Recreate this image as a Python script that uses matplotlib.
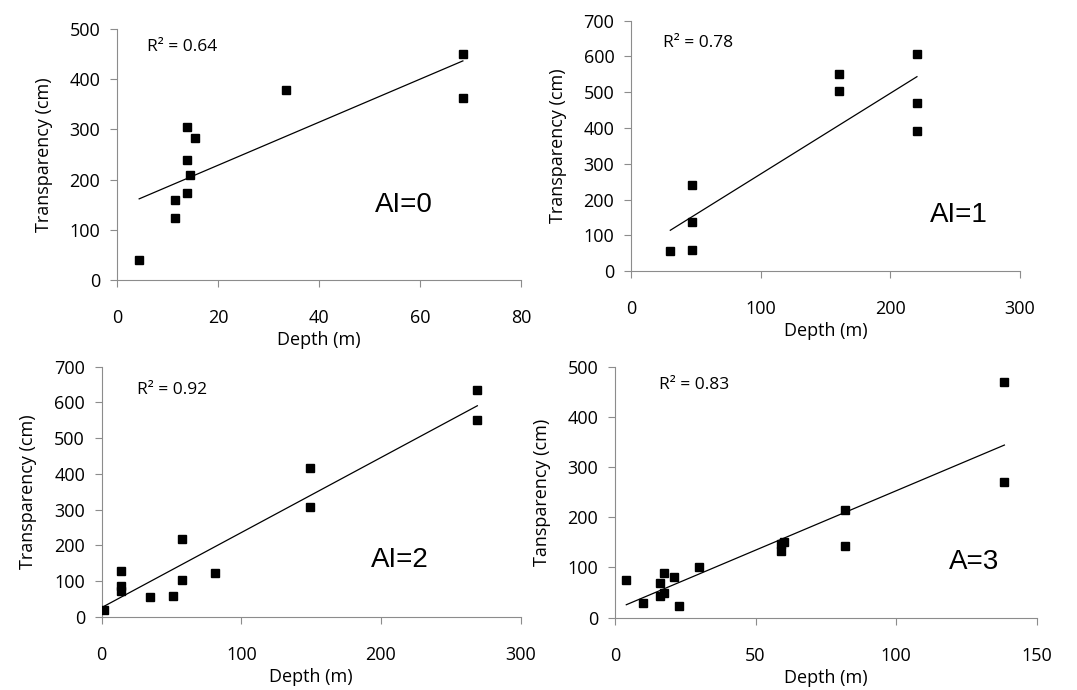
import numpy as np
import matplotlib.pyplot as plt

plt.rcParams['font.family'] = ['Open Sans', 'DejaVu Sans']

# AI=0
depth0 = [4.4, 11.5, 11.5, 13.8, 13.8, 13.8, 14.5, 15.5, 33.5, 68.5, 68.5]
transp0 = [40, 160, 123, 305, 240, 174, 209, 283, 379, 450, 362]
# AI=1
depth1 = [30.3, 47.3, 47.3, 47.3, 160.4, 160.4, 220.5, 220.5, 220.5]
transp1 = [57, 240, 137, 60, 551, 503, 607, 471, 391]
# AI=2
depth2 = [1.9, 13.6, 13.6, 13.6, 34.6, 50.8, 57.3, 57.3, 81.4, 149.2, 149.2, 269, 269]
transp2 = [18, 128, 85, 72, 56, 58, 218, 104, 122, 417, 308, 635, 550]
# A=3
depth3 = [4.1, 10.1, 16.2, 16.2, 17.5, 17.5, 21.2, 22.8, 30, 59.2, 59.2, 60.1, 81.7, 81.7, 138.4, 138.4]
transp3 = [75, 30, 70, 44, 90, 49, 82, 24, 100, 133, 147, 150, 214, 143, 470, 270]

r2_labels = ['R² = 0.64', 'R² = 0.78', 'R² = 0.92', 'R² = 0.83']
ai_labels = ['AI=0', 'AI=1', 'AI=2', 'A=3']
ylabels = ['Transparency (cm)', 'Transparency (cm)', 'Transparency (cm)', 'Tansparency (cm)']
xmax = [80, 300, 300, 150]
xstep = [20, 100, 100, 50]
ymax = [500, 700, 700, 500]

positions = [
    [0.1086, 0.5942, 0.3751, 0.3638],
    [0.5859, 0.6072, 0.3612, 0.3628],
    [0.0944, 0.1062, 0.3890, 0.3623],
    [0.5708, 0.1048, 0.3921, 0.3638],
]
r2_pos = [(0.074, 0.928), (0.082, 0.91), (0.0835, 0.907), (0.104, 0.927)]
ai_pos = [(0.71, 0.30), (0.843, 0.224), (0.712, 0.227), (0.851, 0.223)]

data = [(depth0, transp0), (depth1, transp1), (depth2, transp2), (depth3, transp3)]

fig = plt.figure(figsize=(10.77, 6.9), dpi=100)
for i, (x, y) in enumerate(data):
    ax = fig.add_axes(positions[i])
    x = np.array(x)
    y = np.array(y)
    ax.plot(x, y, 's', color='black', markersize=5.5, zorder=3)
    # linear trendline like excel
    k, b = np.polyfit(x, y, 1)
    xl = np.array([x.min(), x.max()])
    ax.plot(xl, k * xl + b, color='black', linewidth=0.9)

    ax.set_xlim(0, xmax[i])
    ax.set_ylim(0, ymax[i])
    ax.set_xticks(np.arange(0, xmax[i] + 1, xstep[i]))
    ax.set_yticks(np.arange(0, ymax[i] + 1, 100))
    for s in ['top', 'right']:
        ax.spines[s].set_visible(False)
    for s in ['left', 'bottom']:
        ax.spines[s].set_color('#8c8c8c')
    ax.tick_params(axis='x', colors='#8c8c8c', labelcolor='black', length=5,
                   labelsize=13, pad=16)
    ax.tick_params(axis='y', colors='#8c8c8c', labelcolor='black', length=5,
                   labelsize=13, pad=7)
    ax.set_xlabel('Depth (m)', fontsize=13, labelpad=3)
    ax.set_ylabel(ylabels[i], fontsize=13, labelpad=12)
    ax.text(r2_pos[i][0], r2_pos[i][1], r2_labels[i], transform=ax.transAxes,
            fontsize=12.5, va='center', ha='left')
    ax.text(ai_pos[i][0], ai_pos[i][1], ai_labels[i], transform=ax.transAxes,
            fontsize=20, va='center', ha='center', family='Liberation Sans')

plt.savefig('out.png', dpi=100)
